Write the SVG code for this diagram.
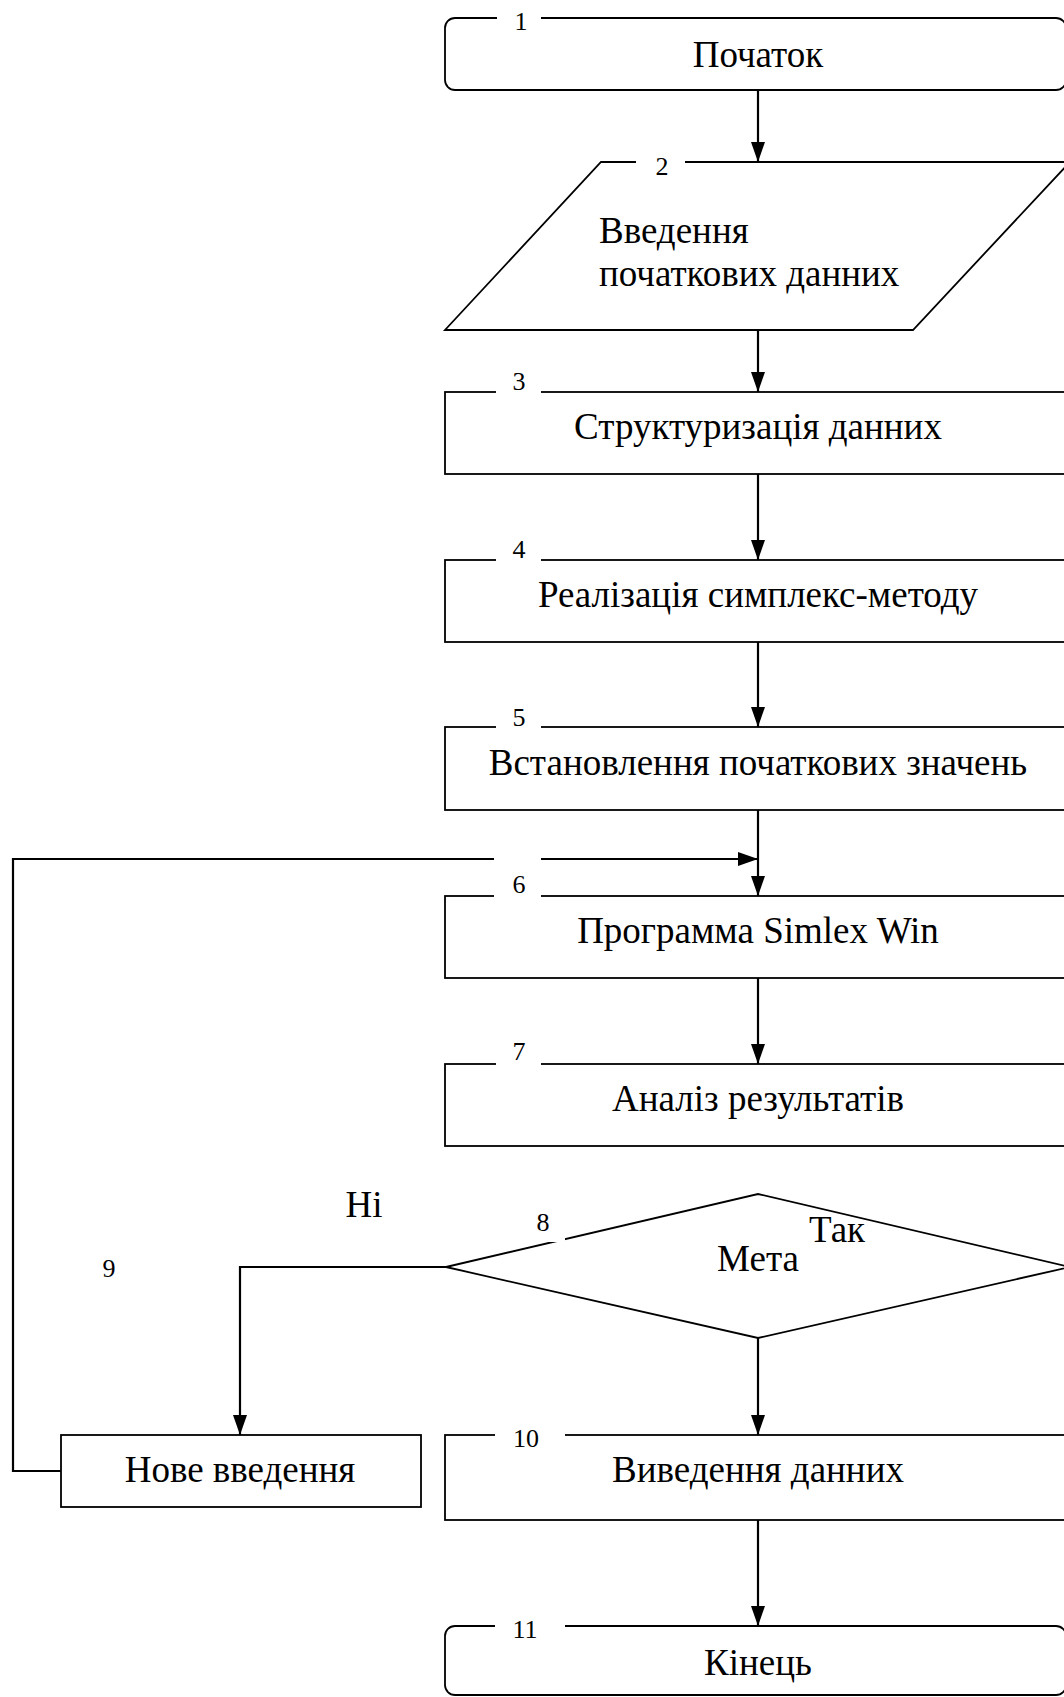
<svg xmlns="http://www.w3.org/2000/svg" width="1064" height="1697" viewBox="0 0 1064 1697">
<style>
.s{fill:#fff;stroke:#000;stroke-width:1.8}
.c{fill:none;stroke:#000;stroke-width:2.2}
.g{fill:#fff;stroke:none}
.t{font-family:"Liberation Serif","Times New Roman",serif;font-size:37px;fill:#000;text-anchor:middle}
.n{font-family:"Liberation Serif","Times New Roman",serif;font-size:26px;fill:#000;text-anchor:middle}
</style>
<defs>
<marker id="a" viewBox="0 0 20 14" refX="20" refY="7" markerWidth="20" markerHeight="14" markerUnits="userSpaceOnUse" orient="auto">
<path d="M0,0 L20,7 L0,14 z" fill="#000"/>
</marker>
</defs>
<rect width="1064" height="1697" fill="#fff"/>
<g id="connectors">
<path class="c" d="M758,90 V162" marker-end="url(#a)"/>
<path class="c" d="M758,330 V392" marker-end="url(#a)"/>
<path class="c" d="M758,474 V560" marker-end="url(#a)"/>
<path class="c" d="M758,642 V727" marker-end="url(#a)"/>
<path class="c" d="M758,810 V896" marker-end="url(#a)"/>
<path class="c" d="M758,978 V1064" marker-end="url(#a)"/>
<path class="c" d="M758,1338 V1435" marker-end="url(#a)"/>
<path class="c" d="M446,1267 H240 V1435" marker-end="url(#a)"/>
<path class="c" d="M61,1471 H13 V859 H758" marker-end="url(#a)"/>
<path class="c" d="M758,1520 V1626" marker-end="url(#a)"/>
</g>
<g id="n1">
<rect class="s" x="445" y="18" width="621" height="72" rx="10"/>
<rect class="g" x="497" y="8" width="44" height="18"/>
<text class="n" x="521" y="30">1</text>
<text class="t" x="758" y="67">Початок</text>
</g>
<g id="n2">
<polygon class="s" points="601,162 1070,162 913,330 445,330"/>
<rect class="g" x="636" y="155" width="49" height="14"/>
<text class="n" x="662" y="175">2</text>
<text class="t" x="599" y="243" style="text-anchor:start">Введення</text>
<text class="t" x="599" y="286" style="text-anchor:start">початкових данних</text>
</g>
<g id="n3">
<rect class="s" x="445" y="392" width="625" height="82"/>
<rect class="g" x="496" y="388" width="45" height="8"/>
<text class="n" x="519" y="390">3</text>
<text class="t" x="758" y="439">Структуризація данних</text>
</g>
<g id="n4">
<rect class="s" x="445" y="560" width="625" height="82"/>
<rect class="g" x="496" y="556" width="45" height="8"/>
<text class="n" x="519" y="558">4</text>
<text class="t" x="758" y="607">Реалізація симплекс-методу</text>
</g>
<g id="n5">
<rect class="s" x="445" y="727" width="625" height="83"/>
<rect class="g" x="496" y="723" width="45" height="8"/>
<text class="n" x="519" y="726">5</text>
<text class="t" x="758" y="775">Встановлення початкових значень</text>
</g>
<g id="n6">
<rect class="s" x="445" y="896" width="625" height="82"/>
<rect class="g" x="494" y="852" width="47" height="48"/>
<text class="n" x="519" y="893">6</text>
<text class="t" x="758" y="943">Программа Simlex Win</text>
</g>
<g id="n7">
<rect class="s" x="445" y="1064" width="625" height="82"/>
<rect class="g" x="496" y="1060" width="45" height="8"/>
<text class="n" x="519" y="1060">7</text>
<text class="t" x="758" y="1111">Аналіз результатів</text>
</g>
<g id="n8">
<polygon class="s" points="446,1267 758,1194 1070,1267 758,1338"/>
<rect class="g" x="525" y="1202" width="40" height="40"/>
<text class="n" x="543" y="1231">8</text>
<text class="t" x="758" y="1271">Мета</text>
<text class="t" x="837" y="1242">Так</text>
<text class="t" x="364" y="1217">Ні</text>
</g>
<g id="n9">
<rect class="s" x="61" y="1435" width="360" height="72"/>
<text class="n" x="109" y="1277">9</text>
<text class="t" x="240" y="1482">Нове введення</text>
</g>
<g id="n10">
<rect class="s" x="445" y="1435" width="625" height="85"/>
<rect class="g" x="495" y="1425" width="70" height="20"/>
<text class="n" x="526" y="1447">10</text>
<text class="t" x="758" y="1482">Виведення данних</text>
</g>
<g id="n11">
<rect class="s" x="445" y="1626" width="621" height="69" rx="10"/>
<rect class="g" x="495" y="1616" width="70" height="20"/>
<text class="n" x="525" y="1638">11</text>
<text class="t" x="758" y="1675">Кінець</text>
</g>
</svg>
